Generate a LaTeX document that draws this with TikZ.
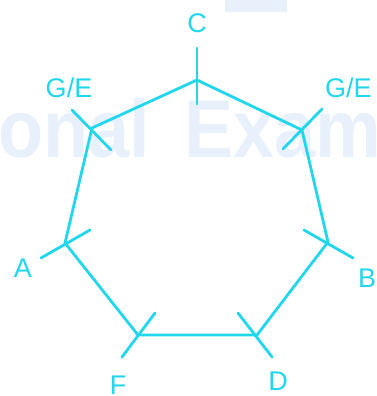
\documentclass[tikz,border=0pt]{standalone}
\usepackage{fontspec}
\setmainfont{Liberation Sans}
\definecolor{cyanl}{RGB}{34,214,236}
\definecolor{wmark}{RGB}{232,240,252}
\begin{document}
\begin{tikzpicture}[x=1pt,y=-1pt,
  edge/.style={draw=cyanl,line width=2.8pt,line cap=round,line join=round},
  lbl/.style={text=cyanl,font=\fontsize{27}{27}\selectfont,inner sep=0pt},
  wm/.style={text=wmark,font=\fontsize{82}{82}\selectfont\bfseries,inner sep=0pt}]
\useasboundingbox (0,0) rectangle (376,396);
% watermark
\fill[wmark] (225,0) rectangle (287,12);
\node[wm,anchor=base east] (wm1) at (150,157) {\scalebox{0.9}[1]{onal}};
\node[wm,anchor=base west] (wm2) at (184,157) {\scalebox{0.9}[1]{Exam}};
% vertices
\coordinate (C) at (197,80);
\coordinate (GL) at (92,128);
\coordinate (GR) at (302,130);
\coordinate (A) at (65,243);
\coordinate (B) at (328,242);
\coordinate (F) at (138,335);
\coordinate (D) at (257,335);
% edges
\draw[edge] (C) -- (GR) -- (B) -- (D) -- (F) -- (A) -- (GL) -- cycle;
% ticks
\coordinate (C1) at (197,48); \coordinate (C2) at (197,104);
\coordinate (GL1) at (72,110); \coordinate (GL2) at (111,150);
\coordinate (GR1) at (322,109); \coordinate (GR2) at (283,149);
\coordinate (A1) at (41,258); \coordinate (A2) at (90,230);
\coordinate (B1) at (304,230); \coordinate (B2) at (353,258);
\coordinate (F1) at (155,313); \coordinate (F2) at (122,357);
\coordinate (D1) at (238,313); \coordinate (D2) at (272,357);
\draw[edge] (C1) -- (C2);
\draw[edge] (GL1) -- (GL2);
\draw[edge] (GR1) -- (GR2);
\draw[edge] (A1) -- (A2);
\draw[edge] (B1) -- (B2);
\draw[edge] (F1) -- (F2);
\draw[edge] (D1) -- (D2);
% labels
\node[lbl] (lC) at (197,23) {C};
\node[lbl] (lGL) at (69,88) {G/E};
\node[lbl,anchor=west] (lGR) at (325,88) {G/E};
\node[lbl] (lA) at (23,268) {A};
\node[lbl,anchor=west] (lB) at (358,278) {B};
\node[lbl] (lF) at (118,385) {F};
\node[lbl] (lD) at (278,381) {D};
\end{tikzpicture}
\end{document}
